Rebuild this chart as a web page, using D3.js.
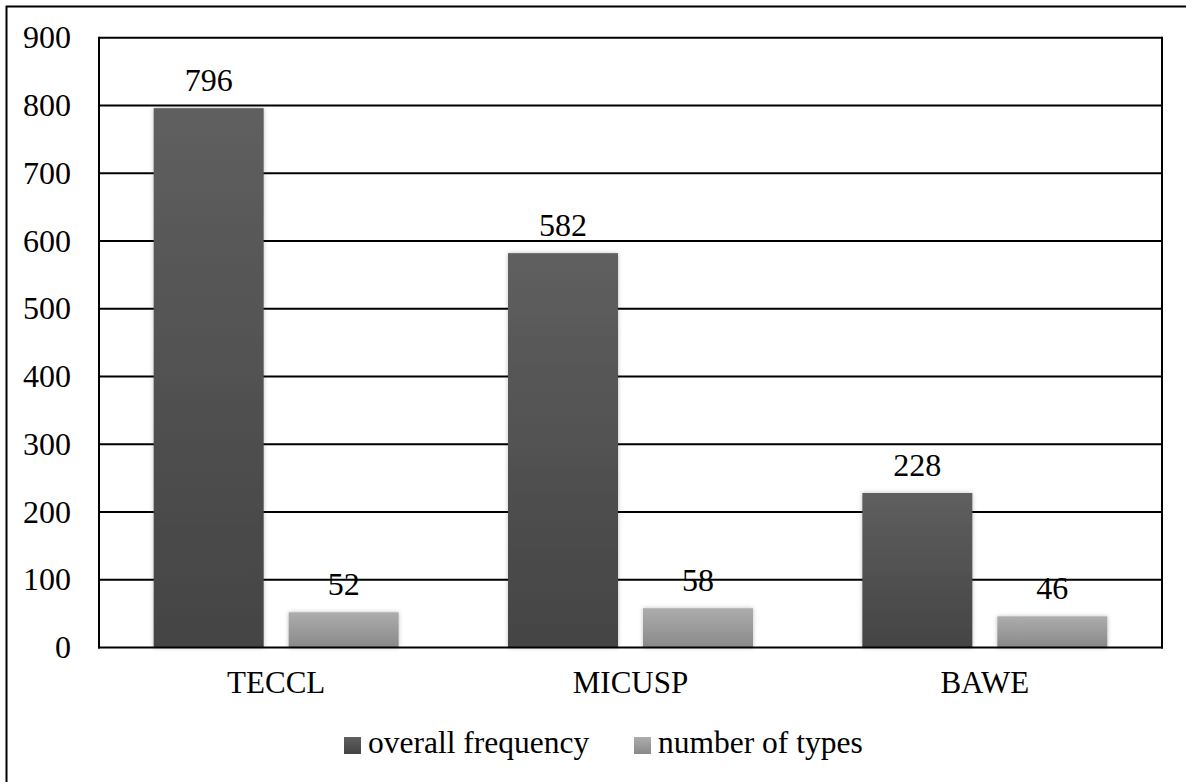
<!DOCTYPE html>
<html>
<head>
<meta charset="utf-8">
<script src="https://cdn.jsdelivr.net/npm/d3@7"></script>
<style>
  html, body { margin: 0; padding: 0; background: #fff; }
  svg { display: block; }
</style>
</head>
<body>
<svg id="chart" width="1186" height="782"></svg>
<script>
// Corpus categories and the two measured series
const categories = ["TECCL", "MICUSP", "BAWE"];
const seriesNames = ["overall frequency", "number of types"];
const overallFrequency = [796, 582, 228];
const numberOfTypes = [52, 58, 46];
const yTicks = [0, 100, 200, 300, 400, 500, 600, 700, 800, 900];

const FONT = "Liberation Serif";

// Apply the serif face directly on every text node
function serif(sel, size) {
  sel.attr("font-family", FONT)
     .attr("font-size", size)
     .style("font-family", FONT)
     .style("font-size", size + "px")
     .attr("fill", "#000");
}

const rows = categories.map((c, i) => ({
  category: c,
  values: [
    { series: 0, value: overallFrequency[i] },
    { series: 1, value: numberOfTypes[i] }
  ]
}));

const svg = d3.select("#chart");
const plot = { left: 99, right: 1162, top: 37.7, bottom: 647.5 };

// Gradients for the bar fills (lighter at top, darker at bottom)
const defs = svg.append("defs");
const gradStops = [
  ["#5f5f5f", "#444444"],
  ["#adadad", "#898989"]
];
gradStops.forEach((s, i) => {
  const g = defs.append("linearGradient")
    .attr("id", "grad" + i)
    .attr("x1", 0).attr("y1", 0).attr("x2", 0).attr("y2", 1);
  g.append("stop").attr("offset", "0%").attr("stop-color", s[0]);
  g.append("stop").attr("offset", "100%").attr("stop-color", s[1]);
});
const shadow = defs.append("filter").attr("id", "shadow")
  .attr("x", "-20%").attr("y", "-20%").attr("width", "140%").attr("height", "140%");
shadow.append("feDropShadow")
  .attr("dx", 0).attr("dy", 0).attr("stdDeviation", 2)
  .attr("flood-color", "#000").attr("flood-opacity", 0.25);

// Outer frame
svg.append("rect")
  .attr("x", 6.5).attr("y", 6.5)
  .attr("width", 1220).attr("height", 820)
  .attr("fill", "none").attr("stroke", "#000").attr("stroke-width", 2);

// Scales
const y = d3.scaleLinear().domain([0, 900]).range([plot.bottom, plot.top]);
const x0 = d3.scaleBand().domain(categories).range([plot.left, plot.right])
  .paddingInner(0).paddingOuter(0);
const x1 = d3.scaleBand().domain([0, 1]).range([0, x0.bandwidth()])
  .paddingInner(0.185).paddingOuter(0.405);

// Gridlines
svg.append("g")
  .selectAll("line")
  .data(yTicks.filter(t => t > 0))
  .join("line")
  .attr("x1", plot.left).attr("x2", plot.right)
  .attr("y1", d => y(d)).attr("y2", d => y(d))
  .attr("stroke", "#000").attr("stroke-width", 2);

// Y axis labels
const yAxis = d3.axisLeft(y).tickValues(yTicks).tickSize(0).tickPadding(28);
const yg = svg.append("g").attr("transform", `translate(${plot.left},0)`).call(yAxis);
yg.attr("font-family", null).attr("font-size", null);
yg.select(".domain").remove();
yg.selectAll("text").call(serif, 32);

// Bars
const groups = svg.append("g").selectAll("g")
  .data(rows)
  .join("g")
  .attr("transform", d => `translate(${x0(d.category)},0)`);

groups.selectAll("rect")
  .data(d => d.values)
  .join("rect")
  .attr("x", d => x1(d.series))
  .attr("width", x1.bandwidth())
  .attr("y", d => y(d.value))
  .attr("height", d => y(0) - y(d.value))
  .attr("fill", d => `url(#grad${d.series})`)
  .attr("filter", "url(#shadow)");

// Value labels above bars
groups.selectAll("text")
  .data(d => d.values)
  .join("text")
  .attr("x", d => x1(d.series) + x1.bandwidth() / 2)
  .attr("y", d => y(d.value) - 17.5)
  .attr("text-anchor", "middle")
  .call(serif, 32)
  .text(d => d.value);

// Axis frame: left axis, right edge, bottom baseline
const frame = svg.append("g").attr("stroke", "#000").attr("stroke-width", 2);
frame.append("line").attr("x1", plot.left).attr("x2", plot.left)
  .attr("y1", plot.top - 1).attr("y2", plot.bottom + 1);
frame.append("line").attr("x1", plot.right).attr("x2", plot.right)
  .attr("y1", plot.top - 1).attr("y2", plot.bottom + 1);
frame.append("line").attr("x1", plot.left - 1).attr("x2", plot.right + 1)
  .attr("y1", y(0)).attr("y2", y(0));

// Category labels
const xAxis = d3.axisBottom(x0).tickSize(0).tickPadding(23.5);
const xg = svg.append("g").attr("transform", `translate(0,${plot.bottom})`).call(xAxis);
xg.attr("font-family", null).attr("font-size", null);
xg.select(".domain").remove();
xg.selectAll("text").call(serif, 31);

// Legend
const legendX = [344, 634];
const legend = svg.append("g").selectAll("g")
  .data(seriesNames)
  .join("g")
  .attr("transform", (d, i) => `translate(${legendX[i]},737)`);
legend.append("rect")
  .attr("width", 17).attr("height", 17)
  .attr("fill", (d, i) => `url(#grad${i})`);
legend.append("text")
  .attr("x", 24).attr("y", 16)
  .call(serif, 31.5)
  .text(d => d);
</script>
</body>
</html>
